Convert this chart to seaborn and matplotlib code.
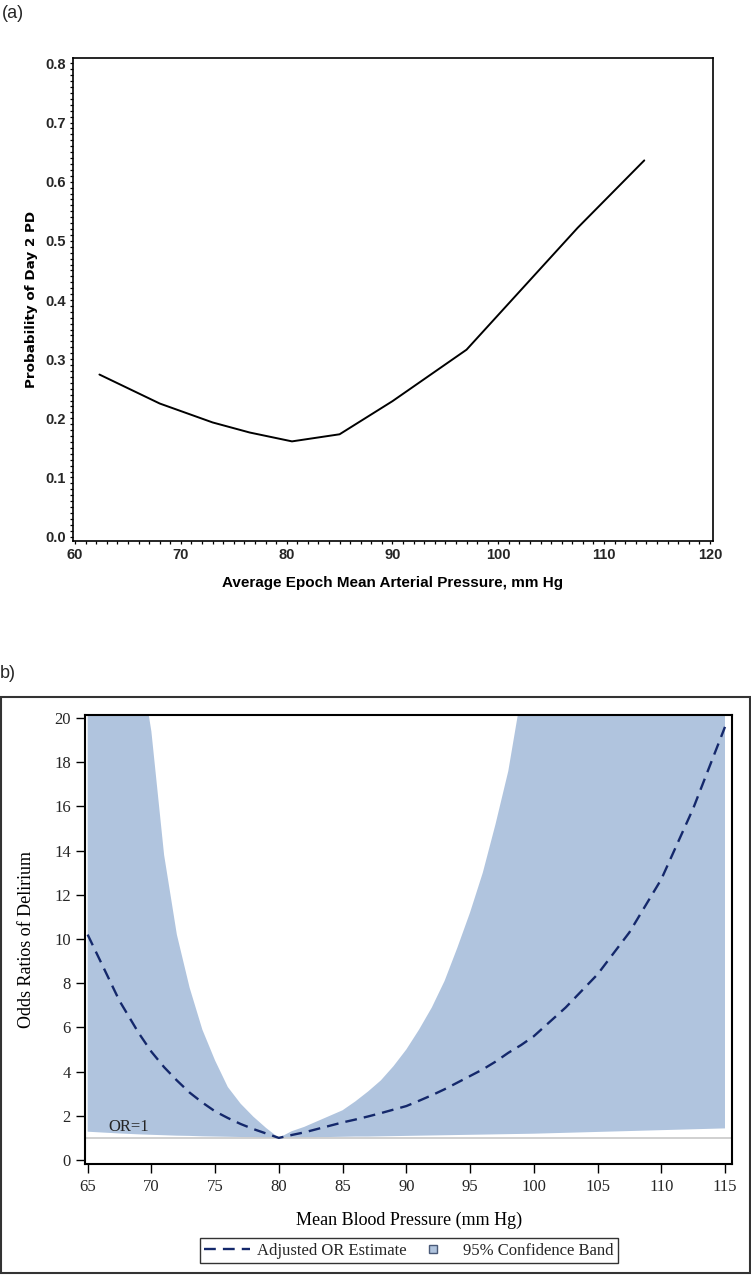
import matplotlib
matplotlib.use("Agg")
import matplotlib.pyplot as plt
import seaborn as sns
import pandas as pd
from matplotlib.lines import Line2D
from matplotlib.patches import Rectangle
from matplotlib.ticker import MultipleLocator

# panel (a): probability of day 2 PD vs average epoch MAP
map_mmhg = [62.3, 68.0, 73.0, 76.5, 80.5, 85.0, 90.0, 97.0, 107.5, 113.8]
prob_pd = [0.274, 0.225, 0.193, 0.176, 0.161, 0.173, 0.229, 0.316, 0.522, 0.636]

# panel (b): odds ratios of delirium vs mean blood pressure
bp_mmhg = [65, 67.5, 69, 70, 71, 72, 73, 74, 75, 76, 77, 78, 79, 80,
           81, 82, 83, 84, 85, 86, 87, 88, 89, 90, 91, 92, 93, 94, 95,
           96, 97, 98, 99, 100, 102.5, 105, 107.5, 110, 112.5, 115]
or_est = [10.2, 7.2, 5.75, 4.9, 4.2, 3.6, 3.05, 2.6, 2.2, 1.9, 1.63, 1.4, 1.2, 1.0,
          1.13, 1.25, 1.4, 1.55, 1.7, 1.83, 1.97, 2.12, 2.28, 2.44, 2.68, 2.93, 3.2, 3.5, 3.8,
          4.1, 4.45, 4.85, 5.2, 5.6, 6.9, 8.4, 10.3, 12.7, 15.9, 19.6]
ci_low = [1.28, 1.2, 1.16, 1.14, 1.12, 1.1, 1.09, 1.07, 1.06, 1.05, 1.04, 1.03, 1.01, 1.0,
          1.01, 1.02, 1.03, 1.04, 1.05, 1.06, 1.06, 1.07, 1.08, 1.09, 1.1, 1.11, 1.12, 1.13, 1.14,
          1.15, 1.16, 1.17, 1.18, 1.19, 1.23, 1.27, 1.31, 1.35, 1.39, 1.43]
ci_high = [40, 28, 23, 19.4, 13.8, 10.2, 7.8, 5.9, 4.5, 3.3, 2.55, 1.96, 1.45, 1.0,
           1.3, 1.5, 1.75, 2.0, 2.25, 2.65, 3.1, 3.6, 4.25, 5.0, 5.9, 6.9, 8.1, 9.6, 11.2,
           13.0, 15.2, 17.6, 21, 24.5, 33, 45, 60, 80, 105, 135]

sns.set_theme(style="ticks")
plt.rcParams["font.family"] = ["Liberation Sans", "DejaVu Sans"]

band_color = "#b0c4de"
navy = "#14286b"
serif = "Liberation Serif"

fig = plt.figure(figsize=(7.51, 12.76), dpi=100)

# ---- panel (a)
ax1 = fig.add_axes([0.0976, 0.5763, 0.8513, 0.3782])
df_a = pd.DataFrame({"map": map_mmhg, "prob": prob_pd})
sns.lineplot(data=df_a, x="map", y="prob", ax=ax1, color="black", lw=1.4)
ax1.set_xlim(59.83, 120.26)
ax1.set_ylim(-0.0068, 0.809)
ax1.set_xticks(range(60, 121, 10))
ax1.set_yticks([i / 10 for i in range(9)])
ax1.set_yticklabels([f"{i / 10:.1f}" for i in range(9)])
ax1.xaxis.set_minor_locator(MultipleLocator(1))
ax1.yaxis.set_minor_locator(MultipleLocator(0.01))
ax1.tick_params(which="both", direction="out", length=2.5, width=0.9,
                color="black", labelsize=10.5, pad=3)
for lab in ax1.get_xticklabels() + ax1.get_yticklabels():
    lab.set_fontweight("bold")
for sp in ax1.spines.values():
    sp.set_visible(True)
    sp.set_linewidth(1.2)
    sp.set_color("black")
ax1.set_xlabel("Average Epoch Mean Arterial Pressure, mm Hg",
               fontsize=11, fontweight="bold", labelpad=10, color="black")
ax1.set_ylabel("Probability of Day 2 PD", family="DejaVu Sans",
               fontsize=9.7, fontweight="bold", labelpad=5, color="black")

# ---- panel (b)
ax2 = fig.add_axes([0.1138, 0.0878, 0.8609, 0.3519])
ax2.fill_between(bp_mmhg, ci_low, ci_high, color=band_color, lw=0, zorder=1)
ax2.axhline(1, color="#c8c8c8", lw=1.2, zorder=1.5)
sns.lineplot(x=bp_mmhg, y=or_est, ax=ax2, color=navy, lw=1.7, zorder=3)
ax2.lines[-1].set_dashes([5, 3])
ax2.set_xlim(64.83, 115.55)
ax2.set_ylim(-0.18, 20.14)
ax2.set_xticks(range(65, 116, 5))
ax2.set_yticks(range(0, 21, 2))
ax2.tick_params(direction="out", length=6.5, width=1, color="black",
                labelsize=12, pad=4)
for lab in ax2.get_xticklabels() + ax2.get_yticklabels():
    lab.set_family(serif)
for sp in ax2.spines.values():
    sp.set_visible(True)
    sp.set_linewidth(1.5)
    sp.set_color("black")
ax2.set_xlabel("Mean Blood Pressure (mm Hg)", family=serif, fontsize=13,
               labelpad=12, color="black")
ax2.set_ylabel("Odds Ratios of Delirium", family=serif, fontsize=13,
               labelpad=14, color="black")
ax2.text(66.6, 1.15, "OR=1", family=serif, fontsize=12, va="bottom")

handles = [
    Line2D([0], [0], color=navy, lw=1.7, dashes=[5, 3]),
    Line2D([0], [0], marker="s", linestyle="None", markersize=6,
           markerfacecolor=band_color, markeredgecolor="#4a5a78"),
]
leg = ax2.legend(handles, ["Adjusted OR Estimate", "95% Confidence Band"],
                 loc="center", bbox_to_anchor=(0.5, -0.193), ncol=2,
                 frameon=True, fancybox=False, edgecolor="black",
                 prop={"family": serif, "size": 12}, handlelength=2.8,
                 columnspacing=0.2, handletextpad=0.4, borderpad=0.25)
leg.get_frame().set_linewidth(1)

# panel letters and the box round panel (b)
fig.text(0.002, 1 - 13 / 1276, "(a)", fontsize=13, va="center", ha="left")
fig.text(0.0, 1 - 674 / 1276, "b)", fontsize=13, va="center", ha="left")
fig.add_artist(Rectangle((0.001, 0.0024), 0.998, 0.4514,
                         transform=fig.transFigure, fill=False,
                         edgecolor="#333333", lw=1.5))

fig.savefig("out.png", dpi=100)
